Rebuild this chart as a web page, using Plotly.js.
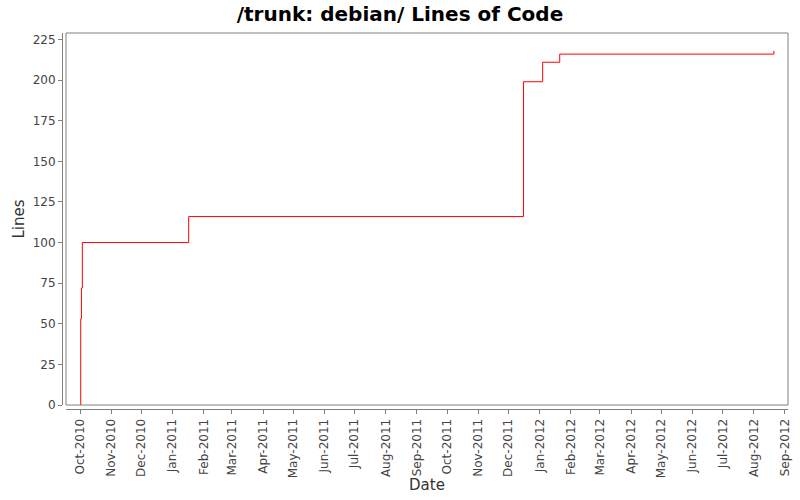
<!DOCTYPE html>
<html>
<head>
<meta charset="utf-8">
<script src="https://cdn.plot.ly/plotly-3.0.1.min.js"></script>
<style>html,body{margin:0;padding:0;background:#fff;}#chart{width:800px;height:500px;}</style>
</head>
<body>
<div id="chart"></div>
<script>
var dates = ['2010-10-01 00:00', '2010-10-01 16:00', '2010-10-02 08:00', '2010-10-03 06:00',
             '2011-01-17', '2011-12-16', '2012-01-04', '2012-01-21', '2012-08-21'];
var lines = [0, 53, 72, 100, 116, 199, 211, 216, 218];
var titleText = '/trunk: debian/ Lines of Code';
var xTitle = 'Date';
var yTitle = 'Lines';

var font = 'DejaVu Sans, sans-serif';
var axisGray = '#808080';
var textGray = '#444444';

var trace = {
  x: dates, y: lines, type: 'scatter', mode: 'lines',
  line: {color: '#ff0000', width: 1, shape: 'hv'},
  hoverinfo: 'skip'
};

var layout = {
  width: 800, height: 500,
  paper_bgcolor: '#ffffff', plot_bgcolor: '#ffffff',
  margin: {l: 62, r: 12, t: 33, b: 91},
  showlegend: false,
  title: {text: titleText, x: 0.5, xanchor: 'center', y: 0.973, yanchor: 'middle',
          font: {family: font, size: 20, color: '#000000', weight: 'bold'}},
  xaxis: {
    type: 'date', range: ['2010-09-17', '2012-09-04'],
    domain: [0.0055, 1], anchor: 'free', position: 0,
    tickmode: 'linear', tick0: '2010-10-01', dtick: 'M1', tickformat: '%b-%Y',
    tickangle: -90, ticks: 'outside', ticklen: 4, tickcolor: axisGray, tickwidth: 1,
    showline: true, linecolor: axisGray, linewidth: 1,
    showgrid: false, zeroline: false,
    tickfont: {family: font, size: 12, color: textGray},
    title: {text: xTitle, font: {family: font, size: 15, color: '#333333'}, standoff: 2}
  },
  yaxis: {
    range: [0, 229], domain: [0.0106, 1], anchor: 'free', position: 0,
    tickmode: 'linear', tick0: 0, dtick: 25,
    ticks: 'outside', ticklen: 4, tickcolor: axisGray, tickwidth: 1,
    showline: true, linecolor: axisGray, linewidth: 1,
    showgrid: false, zeroline: false,
    tickfont: {family: font, size: 12, color: textGray},
    title: {text: yTitle, font: {family: font, size: 15, color: '#333333'}, standoff: 3}
  },
  shapes: [{
    type: 'rect', xref: 'x domain', yref: 'y domain', x0: 0, x1: 1, y0: 0, y1: 1,
    line: {color: axisGray, width: 1}, fillcolor: 'rgba(0,0,0,0)', layer: 'above'
  }]
};

Plotly.newPlot('chart', [trace], layout, {displayModeBar: false, staticPlot: true});
</script>
</body>
</html>
